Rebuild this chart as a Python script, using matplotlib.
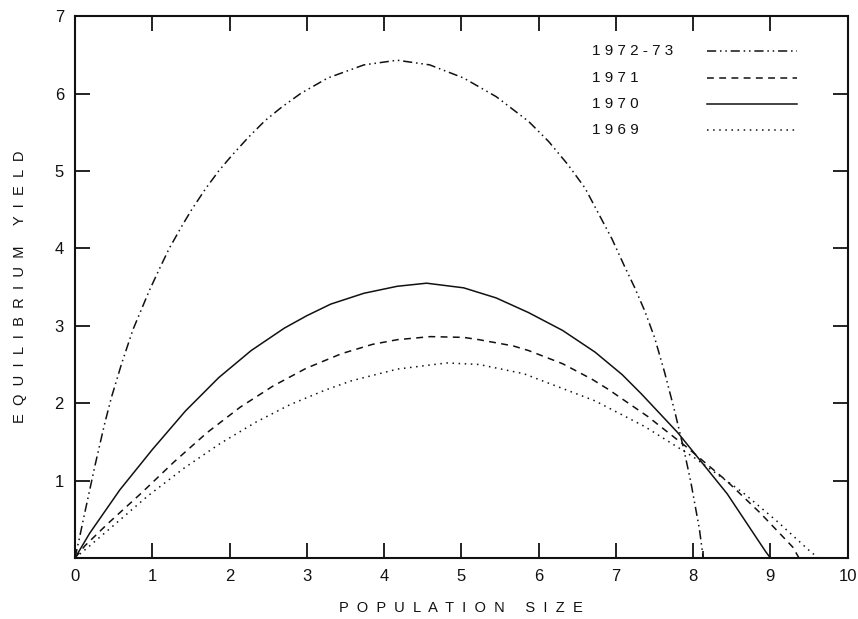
import matplotlib
matplotlib.use("Agg")
import matplotlib.pyplot as plt
from matplotlib.lines import Line2D

plt.rcParams['font.family'] = ['Liberation Sans', 'DejaVu Sans']

# equilibrium yield curves, one per season
x_7273 = [0, 0.06, 0.13, 0.26, 0.38, 0.47, 0.6, 0.75, 0.96, 1.09, 1.22, 1.39, 1.51, 1.69,
          1.86, 2.03, 2.24, 2.46, 2.67, 2.92, 3.27, 3.74, 4.17, 4.59, 5.03, 5.45, 5.87,
          6.13, 6.38, 6.6, 6.95, 7.12, 7.24, 7.37, 7.5, 7.63, 7.76, 7.88, 7.97, 8.08, 8.13]
y_7273 = [0, 0.27, 0.6, 1.2, 1.72, 2.07, 2.5, 2.95, 3.45, 3.73, 4.0, 4.3, 4.5, 4.77,
          5.0, 5.2, 5.43, 5.65, 5.82, 6.0, 6.2, 6.37, 6.43, 6.37, 6.2, 5.96, 5.64,
          5.38, 5.08, 4.78, 4.12, 3.75, 3.5, 3.2, 2.85, 2.4, 1.9, 1.4, 0.98, 0.38, 0]

x_1971 = [0, 0.13, 0.42, 0.86, 1.28, 1.71, 2.14, 2.56, 2.99, 3.45, 3.85, 4.17, 4.6, 5.03,
          5.23, 5.67, 5.87, 6.31, 6.69, 6.9, 7.41, 7.92, 8.44, 8.87, 9.29, 9.37]
y_1971 = [0, 0.16, 0.44, 0.84, 1.24, 1.62, 1.95, 2.22, 2.45, 2.64, 2.76, 2.82, 2.86, 2.85,
          2.82, 2.74, 2.68, 2.51, 2.31, 2.18, 1.83, 1.43, 0.99, 0.58, 0.14, 0]

x_1970 = [0, 0.19, 0.58, 1.0, 1.43, 1.86, 2.28, 2.71, 3.0, 3.31, 3.74, 4.17, 4.55, 5.03,
          5.45, 5.87, 6.31, 6.73, 7.08, 7.33, 7.8, 8.1, 8.44, 8.94, 9.0]
y_1970 = [0, 0.32, 0.88, 1.4, 1.9, 2.33, 2.68, 2.97, 3.13, 3.28, 3.42, 3.51, 3.55, 3.49,
          3.36, 3.17, 2.94, 2.66, 2.37, 2.12, 1.62, 1.25, 0.83, 0.08, 0]

x_1969 = [0, 0.17, 0.51, 0.94, 1.41, 1.88, 2.35, 2.78, 3.24, 3.58, 4.17, 4.81, 5.23, 5.81,
          6.73, 7.37, 8.01, 8.65, 9.08, 9.51, 9.62]
y_1969 = [0, 0.14, 0.43, 0.8, 1.16, 1.48, 1.76, 1.98, 2.17, 2.29, 2.44, 2.52, 2.5, 2.38,
          2.03, 1.7, 1.3, 0.84, 0.48, 0.09, 0]

labels = ['1972-73', '1971', '1970', '1969']
styles = [(0, (6, 2.5, 1, 2.5, 1, 2.5)), (0, (4.5, 3.5)), '-', (0, (1, 3))]
series = [(x_7273, y_7273), (x_1971, y_1971), (x_1970, y_1970), (x_1969, y_1969)]

xticks = list(range(0, 11))
yticks = list(range(1, 8))

ink = '#111111'

fig = plt.figure(figsize=(8.58, 6.19), dpi=100)
ax = fig.add_axes([0.0874, 0.0985, 0.9006, 0.8755])

for (xs, ys), ls in zip(series, styles):
    ax.plot(xs, ys, color=ink, lw=1.1, linestyle=ls)

ax.set_xlim(0, 10)
ax.set_ylim(0, 7)
ax.set_xticks(xticks)
ax.set_xticklabels([str(t) for t in xticks])
ax.set_yticks(yticks)
ax.set_yticklabels([str(t) for t in yticks])
ax.tick_params(direction='in', length=11, width=1.3, top=True, right=True,
               labelsize=12, colors=ink)
ax.tick_params(axis='x', pad=8)
ax.tick_params(axis='y', pad=8)
for s in ax.spines.values():
    s.set_linewidth(1.5)
    s.set_color(ink)

# short mark where the 1972-73 curve meets the axis
ax.set_xticks([x_7273[-1]], minor=True)
ax.tick_params(axis='x', which='minor', direction='in', length=5, width=1.2,
               top=False, color=ink)

# key, labels on the left and line samples on the right
for i, (lab, ls) in enumerate(zip(labels, styles)):
    yk = 0.935 - i * 0.0485
    ax.text(0.669, yk, ' '.join(lab), transform=ax.transAxes, fontsize=11,
            va='center', ha='left', color=ink)
    ax.add_line(Line2D([0.818, 0.934], [yk, yk], transform=ax.transAxes,
                       color=ink, lw=1.1, linestyle=ls))

ax.set_xlabel('  '.join('POPULATION') + '     ' + '  '.join('SIZE'),
              fontsize=10.5, color=ink, labelpad=12)
ax.set_ylabel('  '.join('EQUILIBRIUM') + '     ' + '  '.join('YIELD'),
              fontsize=10.5, color=ink, labelpad=20)

fig.savefig('out.png', dpi=100)
